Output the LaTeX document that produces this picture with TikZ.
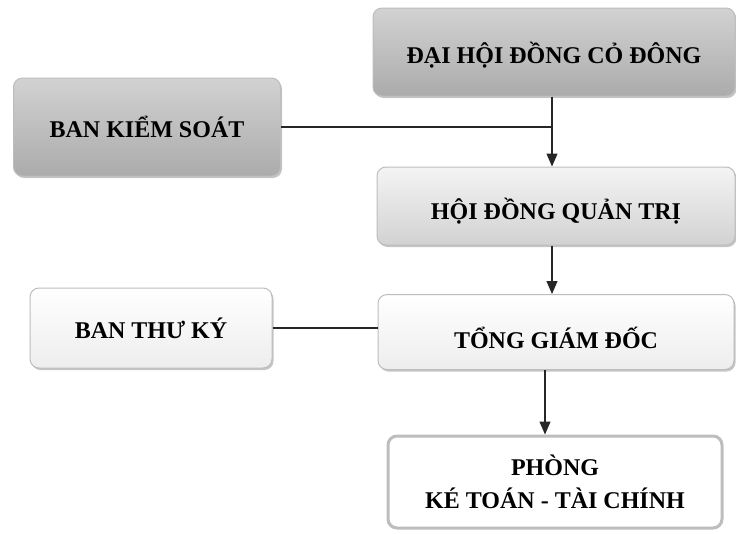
\documentclass[tikz,border=0pt]{standalone}
\usepackage{fontspec}
\setmainfont{Liberation Serif}
\usetikzlibrary{arrows.meta,shadows}
\definecolor{boxdark}{HTML}{ABABAB}
\definecolor{boxmid}{HTML}{D2D2D2}
\definecolor{boxlite}{HTML}{F4F4F4}
\definecolor{edgegray}{HTML}{BDBDBD}
\tikzset{
    box/.style={rounded corners=9pt, draw=edgegray, line width=1pt, align=center,
        font=\bfseries\fontsize{24}{30}\selectfont, inner sep=0pt,
        drop shadow={shadow xshift=1.5pt, shadow yshift=-2pt, fill=black!45}},
    darkbox/.style={box, top color=boxmid, bottom color=boxdark},
    litebox/.style={box, top color=boxlite, bottom color=boxmid},
    whitebox/.style={box, top color=white, bottom color=boxlite!80!boxmid},
    framebox/.style={rounded corners=9pt, draw=edgegray, line width=3pt, fill=white,
        align=center, font=\bfseries\fontsize{24}{33}\selectfont, inner sep=0pt},
    link/.style={line width=1.3pt, black!85},
    tip/.style={link, -{Triangle[length=13pt,width=11pt]}}
}
\begin{document}
\begin{tikzpicture}[x=1pt,y=-1pt]
                \useasboundingbox (0,0) rectangle (736,533);
                % boxes
                \node[darkbox, minimum width=362pt, minimum height=88pt, text height=28pt] (dhcd) at (554,52) {ĐẠI HỘI ĐỒNG CỎ ĐÔNG};
                \node[darkbox, minimum width=267pt, minimum height=98pt] (bks) at (147,127) {BAN KIỂM SOÁT};
                \node[litebox, minimum width=358pt, minimum height=78pt, text height=32pt] (hdqt) at (556,206) {HỘI ĐỒNG QUẢN TRỊ};
                \node[whitebox, minimum width=356pt, minimum height=75pt, text height=34pt] (tgd) at (556,332) {TỔNG GIÁM ĐỐC};
                \node[whitebox, minimum width=242pt, minimum height=80pt] (btk) at (151,328) {BAN THƯ KÝ};
                \node[framebox, minimum width=334pt, minimum height=92pt] (pkt) at (555,482) {PHÒNG\\KÉ TOÁN - TÀI CHÍNH};
                % connectors
                \coordinate (j) at (552,127);
                \draw[link] (bks.east) -- (j);
                \draw[tip] (dhcd.south -| j) -- (hdqt.north -| j);
                \draw[tip] (hdqt.south -| j) -- (tgd.north -| j);
                \draw[link] (btk.east) -- (btk.east -| tgd.west);
                \coordinate (k) at (545,400);
                \draw[tip] (tgd.south -| k) -- (pkt.north -| k);
\end{tikzpicture}
\end{document}
